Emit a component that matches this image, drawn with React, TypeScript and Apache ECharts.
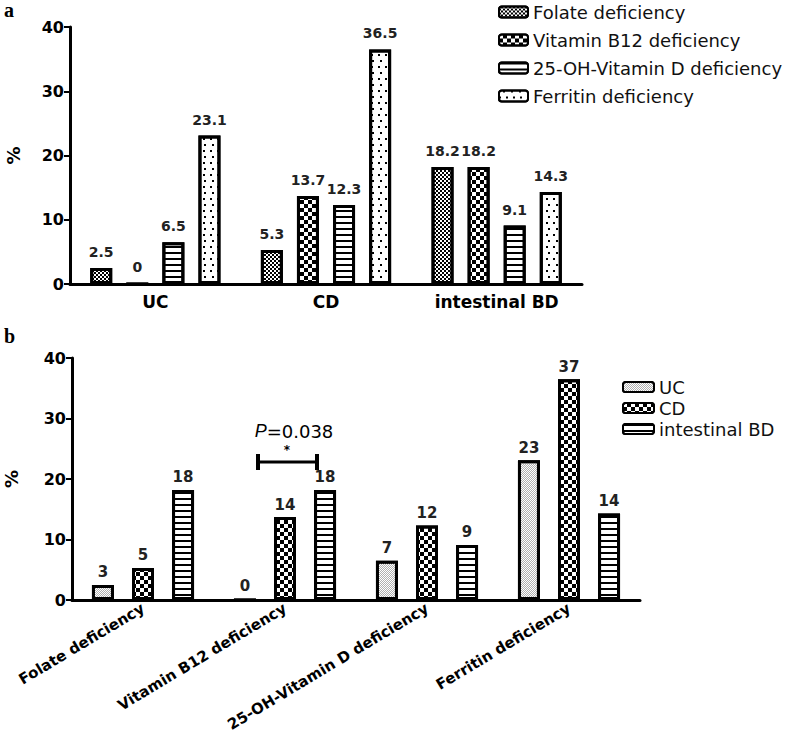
import { useEffect, useRef } from "react";
import * as echarts from "echarts";

// ---- panel a ----
const groupsA = ["UC", "CD", "intestinal BD"];
const seriesNamesA = [
  "Folate deficiency",
  "Vitamin B12 deficiency",
  "25-OH-Vitamin D deficiency",
  "Ferritin deficiency",
];
const folateA = [2.5, 5.3, 18.2];
const b12A = [0, 13.7, 18.2];
const vitDA = [6.5, 12.3, 9.1];
const ferritinA = [23.1, 36.5, 14.3];

// ---- panel b ----
const categoriesB = [
  "Folate deficiency",
  "Vitamin B12 deficiency",
  "25-OH-Vitamin D deficiency",
  "Ferritin deficiency",
];
const seriesNamesB = ["UC", "CD", "intestinal BD"];
const ucB = [2.5, 0, 6.5, 23.1];
const cdB = [5.3, 13.7, 12.3, 36.5];
const bdB = [18.2, 18.2, 9.1, 14.3];

const yMin = 0;
const yMax = 40;
const yStep = 10;
const pText = "=0.038";

const denseDecal = {
  symbol: "rect",
  symbolSize: 1,
  color: "#000",
  backgroundColor: "#7a7a7a",
  dashArrayX: [[2, 2], [0, 2, 2, 0]],
  dashArrayY: [2, 0],
};
const checkDecal = {
  symbol: "rect",
  symbolSize: 1,
  color: "#000",
  backgroundColor: "#fff",
  dashArrayX: [[4, 4], [0, 4, 4, 0]],
  dashArrayY: [4, 0],
};
const stripeDecal = {
  symbol: "rect",
  symbolSize: 1,
  color: "#000",
  backgroundColor: "#fff",
  dashArrayX: [10, 0],
  dashArrayY: [2, 4],
};
const dotDecal = {
  symbol: "rect",
  symbolSize: 1,
  color: "#000",
  backgroundColor: "#fff",
  dashArrayX: [[2, 5], [0, 3.5, 2, 1.5]],
  dashArrayY: [2, 4],
};
const lightDecal = {
  symbol: "rect",
  symbolSize: 1,
  color: "#b0b0b0",
  backgroundColor: "#e8e8e8",
  dashArrayX: [[1, 1], [0, 1, 1, 0]],
  dashArrayY: [1, 0],
};

const decalsA = [denseDecal, checkDecal, stripeDecal, dotDecal];
const decalsB = [lightDecal, checkDecal, stripeDecal];

const axisFont = "DejaVu Sans";
const legendFont = "DejaVu Sans";

function yAxisCommon(gridIndex: number, nameGap: number) {
  return {
    type: "value",
    gridIndex,
    min: yMin,
    max: yMax,
    interval: yStep,
    name: "%",
    nameLocation: "middle",
    nameRotate: 90,
    nameGap,
    nameTextStyle: { fontFamily: axisFont, fontWeight: "bold", fontSize: 18, color: "#000" },
    splitLine: { show: false },
    axisLine: { show: true, lineStyle: { color: "#000", width: 3 } },
    axisTick: { show: true, length: 6, lineStyle: { color: "#000", width: 2 } },
    axisLabel: { fontFamily: axisFont, fontWeight: "bold", fontSize: 16, color: "#000", margin: 6 },
  };
}

export default function App() {
  const ref = useRef<HTMLDivElement>(null);
  useEffect(() => {
    if (!ref.current) return;
    const chart = echarts.init(ref.current, null, { renderer: "svg" });
    const valsA = [folateA, b12A, vitDA, ferritinA];
    const valsB = [ucB, cdB, bdB];
    const seriesA = seriesNamesA.map((name, i) => ({
      type: "bar",
      name,
      xAxisIndex: 0,
      yAxisIndex: 0,
      data: valsA[i],
      barWidth: 22,
      barGap: "64%",
      itemStyle: { color: "#fff", borderColor: "#000", borderWidth: 3, decal: decalsA[i] },
      label: {
        show: true,
        position: "top",
        distance: 9,
        fontFamily: axisFont,
        fontWeight: "bold",
        fontSize: 14,
        color: "#222",
        formatter: (p: any) => String(p.value),
      },
    }));
    const seriesB = seriesNamesB.map((name, i) => ({
      type: "bar",
      name,
      xAxisIndex: 1,
      yAxisIndex: 1,
      data: valsB[i],
      barWidth: 22,
      barGap: "82%",
      itemStyle: { color: "#fff", borderColor: "#000", borderWidth: 3, decal: decalsB[i] },
      label: {
        show: true,
        position: "top",
        distance: 5,
        fontFamily: axisFont,
        fontWeight: "bold",
        fontSize: 15,
        color: "#222",
        formatter: (p: any) => String(Math.round(p.value)),
      },
    }));

    chart.setOption({
      animation: false,
      backgroundColor: "#fff",
      grid: [
        { left: 70, top: 27, width: 512, height: 257, containLabel: false, outerBoundsMode: "none" },
        { left: 72, top: 358, width: 568, height: 242, containLabel: false, outerBoundsMode: "none" },
      ],
      xAxis: [
        {
          type: "category",
          gridIndex: 0,
          data: groupsA,
          axisLine: { lineStyle: { color: "#000", width: 3 } },
          axisTick: { alignWithLabel: true, length: 6, lineStyle: { color: "#000", width: 2 } },
          axisLabel: { fontFamily: axisFont, fontWeight: "bold", fontSize: 17, color: "#000", margin: 9 },
        },
        {
          type: "category",
          gridIndex: 1,
          data: categoriesB,
          axisLine: { lineStyle: { color: "#000", width: 3 } },
          axisTick: { alignWithLabel: true, length: 6, lineStyle: { color: "#000", width: 2 } },
          axisLabel: {
            interval: 0,
            rotate: 31,
            fontFamily: axisFont,
            fontWeight: "bold",
            fontSize: 15,
            color: "#000",
            margin: 7,
          },
        },
      ],
      yAxis: [yAxisCommon(0, 48), yAxisCommon(1, 52)],
      legend: [
        {
          orient: "vertical",
          left: 493,
          top: -2,
          data: seriesNamesA,
          itemWidth: 29,
          itemHeight: 11,
          itemGap: 10,
          itemTextGap: 15,
          selectedMode: false,
          textStyle: { fontFamily: legendFont, fontSize: 18, lineHeight: 18, color: "#111" },
        },
        {
          orient: "vertical",
          left: 617,
          top: 373,
          data: seriesNamesB,
          itemWidth: 31,
          itemHeight: 10,
          itemGap: 3,
          itemTextGap: 16,
          selectedMode: false,
          textStyle: { fontFamily: legendFont, fontSize: 18, lineHeight: 18, color: "#111" },
        },
      ],
      graphic: [
        { type: "text", left: 4, top: 0, style: { text: "a", font: 'bold 20px "Liberation Serif"', fill: "#000" } },
        { type: "text", left: 4, top: 326, style: { text: "b", font: 'bold 20px "Liberation Serif"', fill: "#000" } },
        {
          type: "text",
          x: 294,
          y: 431,
          style: {
            text: "{i|P}{n|" + pText + "}",
            align: "center",
            verticalAlign: "middle",
            rich: {
              i: { fontFamily: "Liberation Sans", fontStyle: "italic", fontSize: 18, fill: "#000" },
              n: { fontFamily: "DejaVu Sans", fontSize: 18, fill: "#000" },
            },
          },
        },
        {
          type: "text",
          x: 287,
          y: 450,
          style: { text: "*", font: 'bold 12px "DejaVu Sans"', fill: "#000", align: "center", verticalAlign: "middle" },
        },
        { type: "line", shape: { x1: 258, y1: 462, x2: 317, y2: 462 }, style: { stroke: "#000", lineWidth: 3 } },
        { type: "line", shape: { x1: 258, y1: 454, x2: 258, y2: 470 }, style: { stroke: "#000", lineWidth: 4 } },
        { type: "line", shape: { x1: 317, y1: 454, x2: 317, y2: 470 }, style: { stroke: "#000", lineWidth: 4 } },
      ],
      series: [...seriesA, ...seriesB],
    });
    return () => chart.dispose();
  }, []);
  return (
    <div
      ref={ref}
      style={{ position: "fixed", left: 0, top: 0, width: 796, height: 734, background: "#fff" }}
    />
  );
}
